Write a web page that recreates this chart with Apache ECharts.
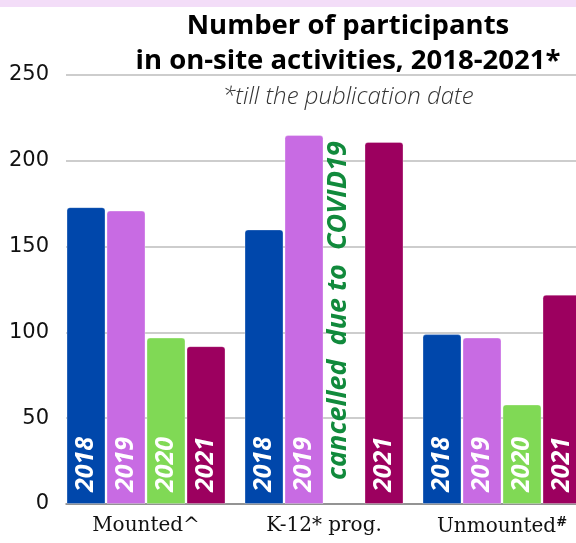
<!DOCTYPE html>
<html>
<head>
<meta charset="utf-8">
<script src="https://cdn.jsdelivr.net/npm/echarts@6/dist/echarts.min.js"></script>
<style>
html,body{margin:0;padding:0;background:#fff;}
#c{width:576px;height:543px;}
</style>
</head>
<body>
<div id="c"></div>
<script>
const categories = ['Mounted^', 'K-12* prog.', 'Unmounted#'];
const years = ['2018', '2019', '2020', '2021'];
const v2018 = [173, 160, 99];
const v2019 = [171, 215, 97];
const v2020 = [97, null, 58];
const v2021 = [92, 211, 122];
const yMin = 0, yMax = 250, yStep = 50;
const cancelledNote = 'cancelled  due to  COVID19';
const cancelledCategory = 'K-12* prog.';
const cancelledYearIndex = 2;
const titleText = 'Number of participants\nin on-site activities, 2018-2021*';
const subtitleText = '*till the publication date';

const colors = ['#0047ab', '#c86be3', '#80d955', '#9c005f'];
const seriesValues = [v2018, v2019, v2020, v2021];
const BAR_W = 39, BAR_GAP = 1;

const chart = echarts.init(document.getElementById('c'), null, {renderer: 'canvas'});

const series = years.map((y, i) => ({
  name: y,
  type: 'bar',
  xAxisIndex: 1,
  yAxisIndex: 1,
  data: seriesValues[i],
  barWidth: BAR_W,
  barGap: (BAR_GAP / BAR_W * 100) + '%',
  itemStyle: {
    color: colors[i],
    borderRadius: [3, 3, 0, 0],
    borderColor: 'rgba(255,255,255,0.3)',
    borderWidth: 1
  },
  label: {
    show: true,
    position: 'insideBottom',
    rotate: 90,
    align: 'left',
    verticalAlign: 'middle',
    distance: 12,
    formatter: () => y,
    color: '#ffffff',
    fontFamily: 'Open Sans',
    fontWeight: 'bold',
    fontStyle: 'italic',
    fontSize: 25
  }
}));

chart.setOption({
  animation: false,
  backgroundColor: '#ffffff',
  title: [{
    text: titleText,
    left: 343,
    top: 4,
    textAlign: 'center',
    textStyle: {
      fontFamily: 'Open Sans',
      fontWeight: 'bold',
      fontSize: 27.5,
      lineHeight: 35,
      color: '#000000'
    }
  }, {
    text: subtitleText,
    left: 343,
    top: 80,
    textAlign: 'center',
    textStyle: {
      fontFamily: 'Open Sans',
      fontWeight: 300,
      fontStyle: 'italic',
      fontSize: 24,
      color: '#333333'
    }
  }],
  grid: [
    {left: 66, right: 0, top: 75, bottom: 39, containLabel: false, outerBoundsMode: 'none'},
    {left: 57, right: -15, top: 75, bottom: 39, containLabel: false, outerBoundsMode: 'none'}
  ],
  xAxis: [
    {
      gridIndex: 0, type: 'value', min: 0, max: 1,
      axisLabel: {show: false}, axisTick: {show: false}, splitLine: {show: false},
      axisLine: {show: true, lineStyle: {color: '#808080', width: 1.5}}
    },
    {
      gridIndex: 1, type: 'category', data: categories,
      axisLine: {show: false}, axisTick: {show: false},
      axisLabel: {
        interval: 0,
        hideOverlap: false,
        margin: 12,
        fontFamily: 'DejaVu Serif',
        fontSize: 20,
        color: '#111111',
        formatter: (v) => v.endsWith('#') ? v.slice(0, -1) + '{sup|#}' : v,
        rich: {
          sup: {fontFamily: 'DejaVu Serif', fontSize: 13, fontWeight: 'bold', color: '#111111', verticalAlign: 'top', padding: [0, 0, 8, 0]}
        }
      }
    }
  ],
  yAxis: [
    {
      gridIndex: 0, type: 'value', min: yMin, max: yMax, interval: yStep,
      axisLine: {show: false}, axisTick: {show: false},
      axisLabel: {margin: 17, fontFamily: 'DejaVu Sans', fontSize: 21, color: '#111111'},
      splitLine: {show: true, lineStyle: {color: '#bcbcbc', width: 1.5}}
    },
    {
      gridIndex: 1, type: 'value', min: yMin, max: yMax, interval: yStep, show: false
    }
  ],
  series: series
});

// Annotation for the cancelled bar, positioned from the axis scales
const catPx = chart.convertToPixel({xAxisIndex: 1}, cancelledCategory);
const nBars = years.length;
const offset = (cancelledYearIndex - (nBars - 1) / 2) * (BAR_W + BAR_GAP);
const zeroPx = chart.convertToPixel({yAxisIndex: 1}, 0);
chart.setOption({
  graphic: [
    {type: 'rect', left: 0, top: 0, shape: {width: 576, height: 7}, style: {fill: '#f3ddf8'}, silent: true},
    {
      type: 'text',
      x: catPx + offset - 6,
      y: zeroPx - 24,
      rotation: Math.PI / 2,
      style: {
        text: cancelledNote,
        fill: '#118a3c',
        font: 'italic bold 27px "Open Sans"',
        textAlign: 'left',
        textVerticalAlign: 'middle'
      },
      z: 10
    }
  ]
});
</script>
</body>
</html>
